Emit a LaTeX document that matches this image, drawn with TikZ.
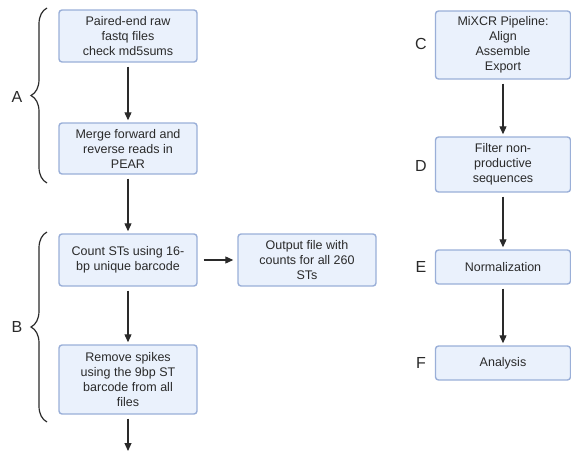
\documentclass[tikz,border=0pt]{standalone}
\usepackage{fontspec}
\setmainfont{Liberation Sans}
\usetikzlibrary{arrows.meta,decorations.pathreplacing}
\definecolor{boxfill}{HTML}{EAF1FC}
\definecolor{boxline}{HTML}{9AAFD8}
\definecolor{ink}{HTML}{2A2A2A}
\tikzset{
  stepbox/.style={draw=boxline, fill=boxfill, line width=1.4pt, rounded corners=3pt,
    minimum width=138pt, align=center, inner sep=0pt,
    font=\fontsize{12.5}{15}\selectfont, text=ink},
  rbox/.style={stepbox, minimum width=135pt},
  flow/.style={-{Triangle[width=7pt,length=8pt]}, draw=ink, line width=1.1pt,
    shorten <=4pt, shorten >=2pt},
  lbl/.style={font=\fontsize{16}{18}\selectfont, text=ink, inner sep=0pt},
  bracestyle/.style={draw=ink, line width=1.2pt,
    decorate, decoration={brace, amplitude=16pt}}
}
\begin{document}
\begin{tikzpicture}[x=1pt,y=-1pt]
\useasboundingbox (0,0) rectangle (571,455);
% left column
\node[stepbox, minimum height=52pt] (a1) at (128,36) {Paired-end raw\\fastq files\\check md5sums};
\node[stepbox, minimum height=51pt] (a2) at (128,148.5) {Merge forward and\\reverse reads in\\PEAR};
\node[stepbox, minimum height=52pt] (b1) at (128,260) {Count STs using 16-\\bp unique barcode};
\node[stepbox, minimum height=52pt] (out) at (307,260) {Output file with\\counts for all 260\\STs};
\node[stepbox, minimum height=69pt] (b2) at (128,379.5) {Remove spikes\\using the 9bp ST\\barcode from all\\files};
\coordinate (end) at (128,453);
\draw[flow] (a1) -- (a2);
\draw[flow] (a2) -- (b1);
\draw[flow] (b1) -- (b2);
\draw[flow, shorten <=6pt, shorten >=4pt] (b1) -- (out);
\draw[flow] (b2) -- (end);
% braces
\draw[bracestyle] (47,183) -- (47,8);
\draw[bracestyle] (47,422) -- (47,232);
\node[lbl] (la) at (17,97) {A};
\node[lbl] (lb) at (17,327) {B};
% right column
\node[rbox, minimum height=68pt] (c) at (503,45) {MiXCR Pipeline:\\Align\\Assemble\\Export};
\node[rbox, minimum height=55pt] (d) at (503,164.5) {Filter non-\\productive\\sequences};
\node[rbox, minimum height=34pt] (e) at (503,267) {Normalization};
\node[rbox, minimum height=34pt] (f) at (503,363) {Analysis};
\draw[flow] (c) -- (d);
\draw[flow] (d) -- (e);
\draw[flow] (e) -- (f);
\node[lbl] (lc) at (421,44) {C};
\node[lbl] (ld) at (421,166) {D};
\node[lbl] (le) at (421,267) {E};
\node[lbl] (lf) at (421,363) {F};
\end{tikzpicture}
\end{document}
